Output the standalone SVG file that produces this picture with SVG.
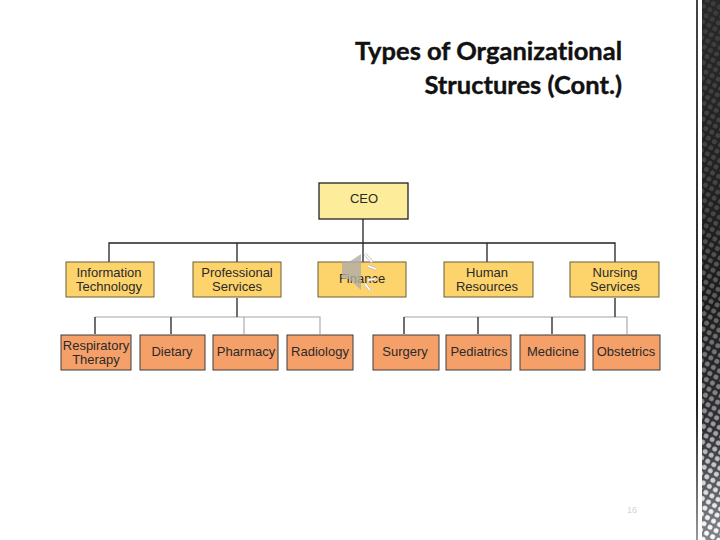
<svg xmlns="http://www.w3.org/2000/svg" width="720" height="540" viewBox="0 0 720 540">
<defs>
<pattern id="dots" width="7" height="7" patternUnits="userSpaceOnUse" patternTransform="rotate(30)"><circle cx="3.5" cy="3.5" r="2.5" fill="#fff"/></pattern>
<linearGradient id="base" x1="0" y1="0" x2="0" y2="1"><stop offset="0" stop-color="#282828"/><stop offset="0.55" stop-color="#1c1c1c"/><stop offset="0.8" stop-color="#303036"/><stop offset="1" stop-color="#80848a"/></linearGradient>
<linearGradient id="rule" x1="0" y1="0" x2="0" y2="1"><stop offset="0" stop-color="#444"/><stop offset="0.75" stop-color="#222"/><stop offset="1" stop-color="#999"/></linearGradient>
<linearGradient id="fadeDots" x1="0" y1="0" x2="0" y2="1"><stop offset="0" stop-color="#fff" stop-opacity=".1"/><stop offset="0.4" stop-color="#fff" stop-opacity=".18"/><stop offset="0.75" stop-color="#fff" stop-opacity=".45"/><stop offset="1" stop-color="#fff" stop-opacity="1"/></linearGradient>
<mask id="fadeMask" maskUnits="userSpaceOnUse" x="702" y="0" width="18" height="540"><rect x="702" y="0" width="18" height="540" fill="url(#fadeDots)"/></mask>
</defs>
<style>
text{font-family:"Liberation Sans",Arial,sans-serif;font-size:13px;fill:#2a2a2a;text-anchor:middle}
.t{font-family:Lato,"Open Sans",sans-serif;font-size:25.5px;font-weight:700;fill:#111;text-anchor:end;stroke:#111;stroke-width:.4;font-variant-ligatures:none}
.ceo{fill:#fdec9a;stroke:#222;stroke-width:1.3}
.d{fill:#fdd36c;stroke:#6b5f3a;stroke-width:1}
.s{fill:#f6a069;stroke:#3d3d3d;stroke-width:1}
.l{fill:none;stroke:#222;stroke-width:1.3}
.g{fill:none;stroke:#a4a4a4;stroke-width:1.1}
</style>
<rect width="720" height="540" fill="#fff"/>
<g id="edge-band">
<rect x="696" y="0" width="2" height="540" fill="url(#rule)"/>
<rect x="702" y="0" width="18" height="540" fill="url(#base)"/>
<rect x="702" y="0" width="18" height="540" fill="url(#dots)" mask="url(#fadeMask)"/>
</g>
<g id="title">
<text class="t" x="622" y="60">Types of Organizational</text>
<text class="t" x="622" y="94">Structures (Cont.)</text>
</g>
<g id="connectors">
<path class="g" d="M95 317H320V334M244 317V334"/>
<path class="g" d="M404 317H627V334"/>
<path class="l" d="M363 219V262M109 262V243H615V262M237 243V262M487 243V262"/>
<path class="l" d="M237 298V317M95 317V334M171 317V334"/>
<path class="l" d="M615 298V317M404 317V334M478 317V334M552 317V334"/>
</g>
<g id="ceo"><rect class="ceo" x="319" y="183" width="89" height="36"/><text x="364" y="203">CEO</text></g>
<g id="it"><rect class="d" x="66" y="262" width="88" height="35"/><text x="109" y="277">Information</text><text x="109" y="291">Technology</text></g>
<g id="ps"><rect class="d" x="193" y="262" width="88" height="35"/><text x="237" y="277">Professional</text><text x="237" y="291">Services</text></g>
<g id="finance"><rect class="d" x="318" y="262" width="88" height="35"/><text x="362" y="283">Finance</text></g>
<g id="hr"><rect class="d" x="444" y="262" width="89" height="35"/><text x="487" y="277">Human</text><text x="487" y="291">Resources</text></g>
<g id="ns"><rect class="d" x="570" y="262" width="89" height="35"/><text x="615" y="277">Nursing</text><text x="615" y="291">Services</text></g>
<g id="rt"><rect class="s" x="61" y="335" width="70" height="35"/><text x="96" y="350">Respiratory</text><text x="96" y="364">Therapy</text></g>
<g id="dietary"><rect class="s" x="140" y="335" width="65" height="35"/><text x="172" y="356">Dietary</text></g>
<g id="pharmacy"><rect class="s" x="213" y="335" width="65" height="35"/><text x="246" y="356">Pharmacy</text></g>
<g id="radiology"><rect class="s" x="287" y="335" width="66" height="35"/><text x="320" y="356">Radiology</text></g>
<g id="surgery"><rect class="s" x="373" y="335" width="66" height="35"/><text x="405" y="356">Surgery</text></g>
<g id="pediatrics"><rect class="s" x="446" y="335" width="65" height="35"/><text x="479" y="356">Pediatrics</text></g>
<g id="medicine"><rect class="s" x="520" y="335" width="65" height="35"/><text x="553" y="356">Medicine</text></g>
<g id="obstetrics"><rect class="s" x="593" y="335" width="67" height="35"/><text x="626" y="356">Obstetrics</text></g>
<g id="speaker">
<path d="M342 262H349L361 254V290L349 279H342Z" fill="#b0aea6" opacity=".8"/>
<path d="M365 254L372 262M368 266L376 269M368 280L375 279M365 284L370 290" stroke="#bbb" stroke-width="3" fill="none" opacity=".9"/>
<path d="M365 254L372 262M368 266L376 269M368 280L375 279M365 284L370 290" stroke="#fff" stroke-width="1.6" fill="none"/>
</g>
<text x="632" y="513" style="font-size:9px;fill:#d4d4d4">16</text>
</svg>
